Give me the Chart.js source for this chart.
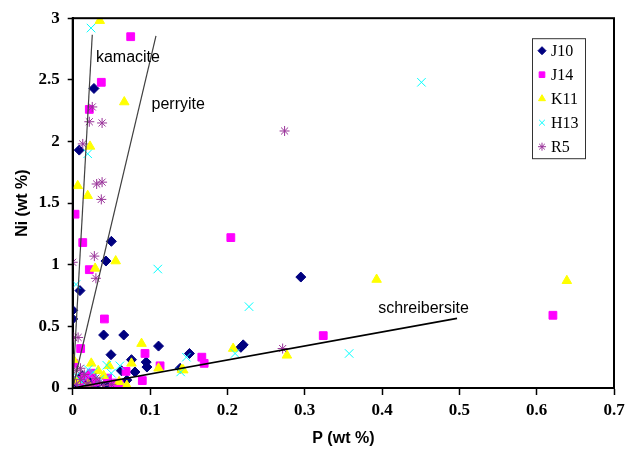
<!DOCTYPE html>
<html>
<head>
<meta charset="utf-8">
<script src="https://cdn.jsdelivr.net/npm/chart.js@4/dist/chart.umd.min.js"></script>
<style>
  html, body { margin: 0; padding: 0; background: #fff; }
</style>
</head>
<body>
<canvas id="myChart" width="631" height="453"></canvas>
<script>
// series values, [P wt%, Ni wt%]
const J10 = [[0.0275,2.43],[0.0085,1.93],[0.050,1.19],[0.043,1.03],[0.0094,0.79],[0,0.63],[0,0.56],
  [0.040,0.43],[0.066,0.43],[0.111,0.34],[0.0495,0.27],[0.076,0.23],[0.095,0.21],[0.096,0.17],
  [0.0805,0.13],[0.070,0.064],[0.043,0.024],[0.295,0.90],[0.2205,0.35],[0.2175,0.33],[0.151,0.28],
  [0.139,0.16],[0.063,0.14],[0.005,0.03],[0.02,0.06],[0.03,0.02],[0.012,0.10]]
const J14 = [[0.075,2.85],[0.037,2.48],[0.0215,2.26],[0.003,1.41],[0.013,1.18],[0.0215,0.96],
  [0.041,0.56],[0.0103,0.32],[0.0935,0.28],[0.113,0.18],[0.001,0.20],[0.069,0.135],[0.0525,0.04],
  [0.2045,1.22],[0.324,0.425],[0.167,0.25],[0.170,0.20],[0.621,0.59],[0.006,0.06],[0.016,0.09],
  [0.03,0.05],[0.06,0.03],[0.045,0.08],[0.09,0.06],[0.01,0.02],[0.024,0.12]]
const K11 = [[0.035,2.98],[0.0667,2.32],[0.0224,1.96],[0.0065,1.64],[0.0194,1.56],[0.0556,1.03],
  [0.029,0.97],[0.089,0.36],[0.076,0.20],[0.111,0.16],[0.024,0.20],[0.047,0.18],[0.001,0.23],
  [0.2075,0.32],[0.277,0.265],[0.393,0.88],[0.141,0.15],[0.639,0.87],[0.143,0.145],[0.005,0.06],
  [0.02,0.03],[0.04,0.10],[0.06,0.05],[0.07,0.02],[0.033,0.14]]
const H13 = [[0.0237,2.92],[0.0194,1.90],[0.0043,0.84],[0.110,0.965],[0.451,2.48],[0.228,0.66],
  [0.3575,0.28],[0.21,0.28],[0.147,0.25],[0.1396,0.13],[0.044,0.185],[0.061,0.18],[0.0266,0.13],
  [0.0043,0.10],[0.020,0.15],[0.012,0.05],[0.035,0.07],[0.05,0.12]]
const R5 = [[0.0253,2.28],[0.0215,2.16],[0.038,2.15],[0.013,1.98],[0.031,1.655],[0.038,1.67],
  [0.037,1.53],[0.274,2.085],[0,1.02],[0.028,1.07],[0.030,0.89],[0.001,0.41],[0.007,0.41],
  [0.2715,0.32],[0.005,0.03],[0.01,0.07],[0.015,0.11],[0.02,0.04],[0.03,0.08],[0.005,0.14],
  [0.025,0.01],[0.04,0.02],[0.01,0.16],[0.035,0.05],[0.05,0.03],[0.018,0.02]]

// reference lines
const kamacite = [[0,0],[0.0253,2.865]]
const perryite = [[0,0],[0.1077,2.857]]
const schreibersite = [[0,0],[0.497,0.565]]

const xTicks = ['0','0.1','0.2','0.3','0.4','0.5','0.6','0.7']
const yTicks = ['0','0.5','1','1.5','2','2.5','3']

const toXY = arr => arr.map(p => ({x: p[0], y: p[1]}))

function series(label, data, color, style, radius, order) {
  return {
    label: label, data: toXY(data), order: order,
    pointStyle: style, pointRadius: radius, pointHoverRadius: radius,
    backgroundColor: color, borderColor: color, pointBorderWidth: 1
  }
}
function refLine(label, data, color, width) {
  return {
    label: label, data: toXY(data), showLine: true, pointRadius: 0,
    borderColor: color, borderWidth: width, order: 0, isRef: true
  }
}

const datasets = [
  series('J10', J10, '#000080', 'rectRot', 5, 5),
  series('J14', J14, '#ff00ff', 'rect', 5.5, 4),
  series('K11', K11, '#ffff00', 'triangle', 5.5, 3),
  series('H13', H13, '#00ffff', 'crossRot', 6, 2),
  series('R5', R5, '#993399', 'star', 5, 1),
  refLine('kamacite', kamacite, '#404040', 1.2),
  refLine('perryite', perryite, '#404040', 1.2),
  refLine('schreibersite', schreibersite, '#000', 1.6)
]

// text next to the lines, anchored in data units
const lineLabels = [
  {text: 'kamacite', x: 0.030, y: 2.684},
  {text: 'perryite', x: 0.102, y: 2.296},
  {text: 'schreibersite', x: 0.395, y: 0.642}
]

const extras = {
  id: 'extras',
  afterDatasetsDraw(chart) {
    const {ctx, chartArea: a, scales} = chart
    ctx.save()
    // frame round the plot
    ctx.strokeStyle = '#000'
    ctx.lineWidth = 2
    ctx.strokeRect(a.left, a.top, a.right - a.left, a.bottom - a.top)
    // line names
    ctx.fillStyle = '#000'
    ctx.font = '16px "Liberation Sans", Arial, sans-serif'
    ctx.textBaseline = 'middle'
    ctx.textAlign = 'left'
    lineLabels.forEach(l => ctx.fillText(l.text, scales.x.getPixelForValue(l.x), scales.y.getPixelForValue(l.y)))
    // legend box
    const bx = a.right - 82, by = a.top + 20
    ctx.fillStyle = '#fff'
    ctx.fillRect(bx, by, 53, 120)
    ctx.lineWidth = 1
    ctx.strokeStyle = '#333'
    ctx.strokeRect(bx + 0.5, by + 0.5, 53, 120)
    ctx.font = '16px "Liberation Serif", "Times New Roman", serif'
    chart.data.datasets.filter(d => !d.isRef).forEach((d, i) => {
      const yy = by + 12.5 + i * 24
      ctx.fillStyle = d.backgroundColor
      ctx.strokeStyle = d.borderColor
      ctx.lineWidth = 1
      Chart.helpers.drawPoint(ctx, {pointStyle: d.pointStyle, radius: 4, rotation: 0, borderWidth: 1}, bx + 10, yy)
      ctx.fillStyle = '#000'
      ctx.fillText(d.label, bx + 19, yy + 1)
    })
    ctx.restore()
  }
}

const tickFont = {family: '"Liberation Serif", "Times New Roman", serif', size: 17, weight: 'bold'}
const titleFont = {family: '"Liberation Sans", Arial, sans-serif', size: 16, weight: 'bold'}

new Chart(document.getElementById('myChart'), {
  type: 'scatter',
  data: {datasets: datasets},
  plugins: [extras],
  options: {
    responsive: false,
    animation: false,
    layout: {padding: {top: 14, right: 17, left: 0, bottom: 0}},
    plugins: {legend: {display: false}, tooltip: {enabled: false}},
    scales: {
      x: {
        type: 'linear', min: 0, max: 0.7,
        afterBuildTicks: s => { s.ticks = xTicks.map(v => ({value: +v})) },
        afterFit: s => { s.height = 65 },
        ticks: {callback: (v, i) => xTicks[i], font: tickFont, color: '#000', padding: 5, maxRotation: 0, autoSkip: false},
        grid: {drawOnChartArea: false, drawTicks: true, tickLength: 7, tickColor: '#000', tickWidth: 1.5},
        border: {display: true, color: '#000', width: 2},
        title: {display: true, text: 'P (wt %)', font: titleFont, color: '#000', padding: {top: 0, bottom: 5}}
      },
      y: {
        type: 'linear', min: 0, max: 3,
        afterBuildTicks: s => { s.ticks = yTicks.map(v => ({value: +v})) },
        afterFit: s => { s.width = 72.7 },
        ticks: {callback: (v, i) => yTicks[i], font: tickFont, color: '#000', padding: 8, autoSkip: false},
        grid: {drawOnChartArea: false, drawTicks: true, tickLength: 5, tickColor: '#000', tickWidth: 1.5},
        border: {display: true, color: '#000', width: 2},
        title: {display: true, text: 'Ni (wt %)', font: titleFont, color: '#000', padding: {top: 13, bottom: 0}}
      }
    }
  }
})
</script>
</body>
</html>
